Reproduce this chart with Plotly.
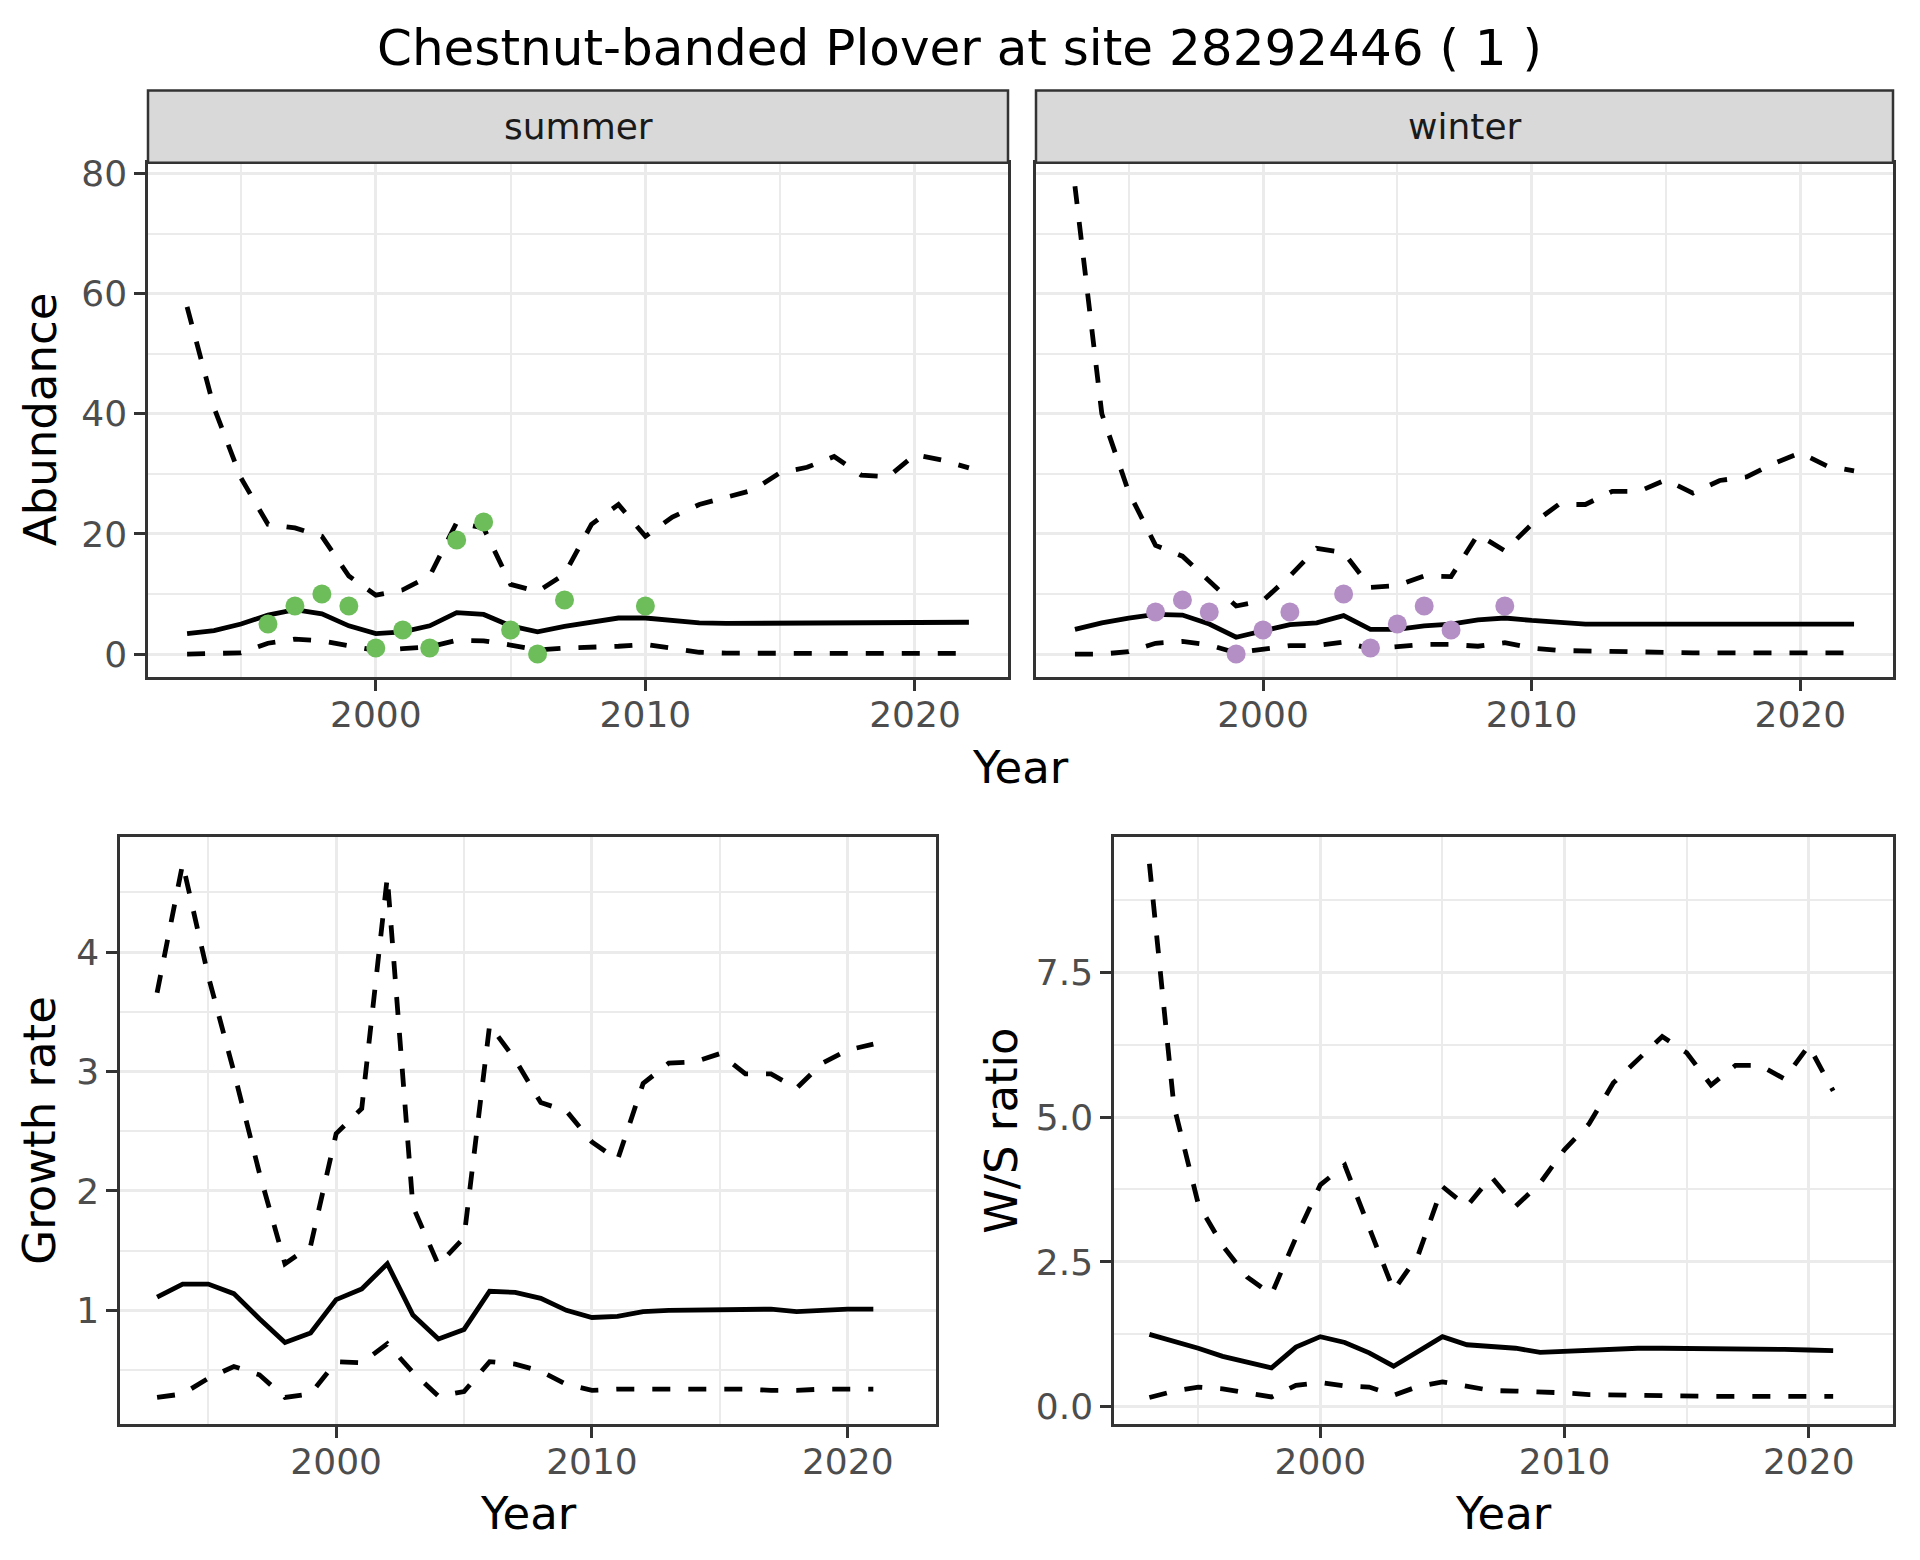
import plotly.graph_objects as go

# ---------------- data ----------------
years_top = list(range(1993, 2023))
summer_upper = [57.8, 41.0, 29.3, 21.6, 21.0, 19.6, 13.0, 9.8, 10.7, 13.0, 21.9, 21.0, 11.6, 10.4, 13.3,
                21.6, 24.9, 19.6, 22.8, 24.9, 26.1, 27.3, 30.2, 31.1, 32.9, 29.8, 29.5, 33.2, 32.3, 31.0]
summer_mean = [3.4, 3.9, 5.0, 6.5, 7.4, 6.7, 4.7, 3.4, 3.7, 4.7, 6.9, 6.6, 4.7, 3.7, 4.6,
               5.3, 6.0, 6.0, 5.6, 5.2, 5.1, 5.1, 5.1, 5.1, 5.15, 5.2, 5.15, 5.15, 5.2, 5.3]
summer_lower = [0.0, 0.0, 0.2, 1.8, 2.5, 2.2, 1.4, 0.6, 0.9, 1.2, 2.3, 2.2, 1.5, 0.7, 1.0,
                1.1, 1.3, 1.6, 0.9, 0.3, 0.15, 0.1, 0.1, 0.1, 0.1, 0.1, 0.1, 0.1, 0.1, 0.1]
winter_upper = [77.9, 40.0, 27.0, 18.1, 16.3, 12.1, 8.0, 8.9, 13.0, 17.6, 16.9, 11.1, 11.4, 13.0, 12.9,
                19.9, 17.2, 21.6, 24.9, 24.9, 27.1, 27.1, 29.0, 26.8, 28.9, 29.5, 31.7, 33.5, 31.3, 30.5]
winter_mean = [4.1, 5.2, 6.0, 6.6, 6.5, 5.0, 2.8, 3.9, 4.9, 5.2, 6.4, 4.1, 4.1, 4.7, 5.0,
               5.7, 6.0, 5.6, 5.3, 5.0, 5.0, 5.1, 5.0, 5.0, 5.0, 5.0, 5.0, 5.0, 5.0, 5.0]
winter_lower = [0.0, 0.0, 0.4, 1.8, 2.1, 1.5, 0.2, 0.8, 1.4, 1.4, 2.0, 0.9, 1.3, 1.6, 1.6,
                1.3, 1.9, 1.0, 0.6, 0.5, 0.3, 0.2, 0.2, 0.2, 0.2, 0.2, 0.2, 0.2, 0.2, 0.2]

summer_obs_years = [1996, 1997, 1998, 1999, 2000, 2001, 2002, 2003, 2004, 2005, 2006, 2007, 2010]
summer_obs = [5, 8, 10, 8, 1, 4, 1, 19, 22, 4, 0, 9, 8]
winter_obs_years = [1996, 1997, 1998, 1999, 2000, 2001, 2003, 2004, 2005, 2006, 2007, 2009]
winter_obs = [7, 9, 7, 0, 4, 7, 10, 1, 5, 8, 4, 8]

years_bot = list(range(1993, 2022))
growth_upper = [3.66, 4.74, 3.8, 3.0, 2.15, 1.39, 1.54, 2.48, 2.69, 4.63, 1.87, 1.38, 1.61, 3.39, 3.10,
                2.74, 2.67, 2.41, 2.26, 2.90, 3.07, 3.08, 3.15, 2.98, 2.98, 2.86, 3.07, 3.18, 3.23]
growth_mean = [1.11, 1.22, 1.22, 1.14, 0.93, 0.73, 0.81, 1.09, 1.18, 1.39, 0.96, 0.76, 0.84, 1.16, 1.15,
               1.10, 1.00, 0.94, 0.95, 0.99, 1.00, 1.00, 1.01, 1.01, 1.01, 0.99, 1.00, 1.01, 1.01]
growth_lower = [0.27, 0.30, 0.43, 0.53, 0.46, 0.27, 0.30, 0.57, 0.56, 0.72, 0.48, 0.28, 0.32, 0.57, 0.55,
                0.49, 0.38, 0.33, 0.34, 0.34, 0.34, 0.34, 0.35, 0.34, 0.33, 0.33, 0.34, 0.34, 0.34]
ws_upper = [9.37, 5.2, 3.5, 2.78, 2.24, 1.94, 2.92, 3.83, 4.17, 3.1, 2.01, 2.61, 3.80, 3.46, 3.97,
            3.46, 3.86, 4.44, 4.88, 5.59, 5.99, 6.39, 6.11, 5.55, 5.89, 5.89, 5.66, 6.23, 5.45]
ws_mean = [1.25, 1.14, 1.01, 0.87, 0.78, 0.67, 1.03, 1.21, 1.11, 0.93, 0.70, 0.95, 1.21, 1.07, 1.04,
           1.01, 0.94, 0.96, 0.98, 0.99, 1.01, 1.01, 1.01, 1.00, 0.99, 0.99, 0.99, 0.98, 0.97]
ws_lower = [0.16, 0.27, 0.34, 0.31, 0.24, 0.17, 0.37, 0.42, 0.36, 0.34, 0.20, 0.35, 0.43, 0.36, 0.28,
            0.27, 0.26, 0.24, 0.21, 0.20, 0.19, 0.18, 0.18, 0.18, 0.18, 0.18, 0.18, 0.18, 0.18]

title_text = "Chestnut-banded Plover at site 28292446 ( 1 )"
facet_labels = ["summer", "winter"]

# ---------------- styling ----------------
W, H = 1920, 1560
FONT = "DejaVu Sans"
LW = 4.8
DASH = "18px,18px"
GREEN = "#6DBE5A"
PURPLE = "#B48FC6"


def px_x(p):
    return p / W


def px_y(p):
    return 1 - p / H


def rng(vals):
    lo, hi = min(vals), max(vals)
    pad = 0.05 * (hi - lo)
    return [lo - pad, hi + pad]


xr = [1993 - 0.05 * 29, 2022 + 0.05 * 29]
top_range = rng(summer_upper + summer_lower + winter_upper + winter_lower + summer_obs + winter_obs)
g_range = rng(growth_upper + growth_lower)
w_range = rng(ws_upper + ws_lower)

fig = go.Figure()


def add_lines(xa, ya, x, up, mid, lo):
    for arr, dash in ((up, DASH), (mid, "solid"), (lo, DASH)):
        fig.add_trace(go.Scatter(x=x, y=arr, mode="lines", xaxis=xa, yaxis=ya,
                                 line=dict(color="black", width=LW, dash=dash),
                                 showlegend=False, hoverinfo="skip"))


add_lines("x", "y", years_top, summer_upper, summer_mean, summer_lower)
fig.add_trace(go.Scatter(x=summer_obs_years, y=summer_obs, mode="markers", xaxis="x", yaxis="y",
                         marker=dict(color=GREEN, size=19, line=dict(width=0)), showlegend=False))
add_lines("x2", "y2", years_top, winter_upper, winter_mean, winter_lower)
fig.add_trace(go.Scatter(x=winter_obs_years, y=winter_obs, mode="markers", xaxis="x2", yaxis="y2",
                         marker=dict(color=PURPLE, size=19, line=dict(width=0)), showlegend=False))
add_lines("x3", "y3", years_bot, growth_upper, growth_mean, growth_lower)
add_lines("x4", "y4", years_bot, ws_upper, ws_mean, ws_lower)

GRID = "#EBEBEB"
BORDER = "#333333"
tickfont = dict(family=FONT, size=36, color="#4D4D4D")


def axis(domain, rng_, dtick, tick0, minor_dtick, anchor, showlabels=True, ticks="outside",
         fmt=None, standoff=0):
    d = dict(domain=domain, range=rng_, dtick=dtick, tick0=tick0, anchor=anchor,
             showline=True, mirror=True, linecolor=BORDER, linewidth=2.5,
             ticks=ticks, ticklen=11, tickwidth=2.5, tickcolor=BORDER,
             showgrid=True, gridcolor=GRID, gridwidth=3, zeroline=False,
             showticklabels=showlabels, tickfont=tickfont, ticklabelstandoff=standoff,
             minor=dict(dtick=minor_dtick, tick0=tick0, showgrid=True, gridcolor=GRID, gridwidth=1.6),
             fixedrange=True)
    if fmt:
        d["tickformat"] = fmt
    return d


# panel pixel boxes
S_TOP, S_BOT = 146, 665
B_TOP, B_BOT = 826, 1418
top_y = [px_y(S_BOT), px_y(S_TOP)]
bot_y = [px_y(B_BOT), px_y(B_TOP)]
SX = (140, 1000)
WX = (1028, 1885)
GX = (112, 928)
RX = (1106, 1885)

fig.update_layout(
    width=W, height=H, margin=dict(l=0, r=0, t=0, b=0),
    paper_bgcolor="white", plot_bgcolor="white", showlegend=False,
    font=dict(family=FONT, color="black"),
    xaxis=axis([px_x(SX[0]), px_x(SX[1])], xr, 10, 2000, 5, "y", standoff=-7),
    yaxis=axis(top_y, top_range, 20, 0, 10, "x"),
    xaxis2=axis([px_x(WX[0]), px_x(WX[1])], xr, 10, 2000, 5, "y2", standoff=-7),
    yaxis2=axis(top_y, top_range, 20, 0, 10, "x2", showlabels=False, ticks=""),
    xaxis3=axis([px_x(GX[0]), px_x(GX[1])], xr, 10, 2000, 5, "y3", standoff=-7),
    yaxis3=axis(bot_y, g_range, 1, 0, 0.5, "x3"),
    xaxis4=axis([px_x(RX[0]), px_x(RX[1])], xr, 10, 2000, 5, "y4", standoff=-7),
    yaxis4=axis(bot_y, w_range, 2.5, 0, 1.25, "x4", fmt=".1f"),
)

# strips
STRIP_TOP = 73
for (x0, x1), lab in zip((SX, WX), facet_labels):
    fig.add_shape(type="rect", xref="paper", yref="paper",
                  x0=px_x(x0), x1=px_x(x1), y0=px_y(S_TOP), y1=px_y(STRIP_TOP),
                  fillcolor="#D9D9D9", line=dict(color=BORDER, width=2.5), layer="above")
    fig.add_annotation(xref="paper", yref="paper", x=px_x((x0 + x1) / 2), y=px_y((STRIP_TOP + S_TOP) / 2),
                       text=lab, showarrow=False, xanchor="center", yanchor="middle",
                       font=dict(family=FONT, size=36, color="#1A1A1A"))

AX = dict(family=FONT, size=45, color="black")
ann = [
    (951, 0, title_text, 0, dict(family=FONT, size=50, color="black"), "top"),
    ((SX[0] + WX[1]) / 2, 756, "Year", 0, AX, "middle"),
    ((GX[0] + GX[1]) / 2, 1508, "Year", 0, AX, "middle"),
    ((RX[0] + RX[1]) / 2, 1508, "Year", 0, AX, "middle"),
    (32, (S_TOP + S_BOT) / 2, "Abundance", -90, AX, "middle"),
    (32, (B_TOP + B_BOT) / 2, "Growth rate", -90, AX, "middle"),
    (994, (B_TOP + B_BOT) / 2, "W/S ratio", -90, AX, "middle"),
]
for x, y, t, ang, f, ya in ann:
    fig.add_annotation(xref="paper", yref="paper", x=px_x(x), y=px_y(y), text=t, textangle=ang,
                       showarrow=False, xanchor="center", yanchor=ya, font=f, borderpad=0)

fig.write_html("out.html")
